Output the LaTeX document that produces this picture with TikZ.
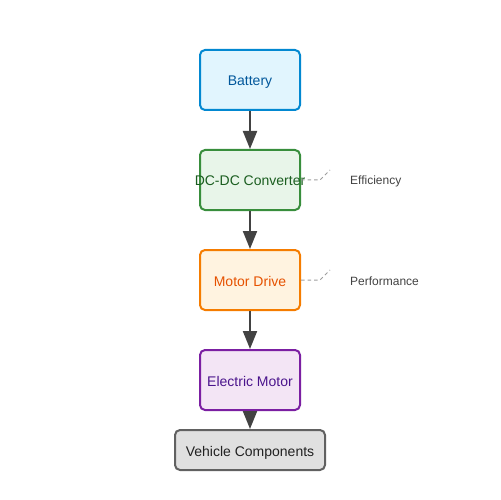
\documentclass[tikz,border=0pt]{standalone}
\usepackage{fontspec}
\setmainfont{Liberation Sans}
\usetikzlibrary{arrows.meta}
\definecolor{bfill}{HTML}{E1F5FE}\definecolor{bdraw}{HTML}{0288D1}\definecolor{btext}{HTML}{01579B}
\definecolor{dfill}{HTML}{E8F5E9}\definecolor{ddraw}{HTML}{388E3C}\definecolor{dtext}{HTML}{1B5E20}
\definecolor{mfill}{HTML}{FFF3E0}\definecolor{mdraw}{HTML}{F57C00}\definecolor{mtext}{HTML}{E65100}
\definecolor{efill}{HTML}{F3E5F5}\definecolor{edraw}{HTML}{7B1FA2}\definecolor{etext}{HTML}{4A148C}
\definecolor{vfill}{HTML}{E0E0E0}\definecolor{vdraw}{HTML}{616161}\definecolor{vtext}{HTML}{212121}
\definecolor{arr}{HTML}{424242}
\definecolor{lbl}{HTML}{424242}
\definecolor{dash}{HTML}{9E9E9E}
\tikzset{
  box/.style={rectangle, rounded corners=5bp, line width=2bp, minimum width=100bp, minimum height=60bp, inner xsep=-20bp, inner ysep=0pt, text height=12bp, text depth=0pt, font=\fontsize{14bp}{16bp}\selectfont},
  flow/.style={draw=arr, line width=2bp, -{Triangle[length=18bp,width=14bp]}},
  note/.style={draw=dash, line width=1bp, dashed, dash pattern=on 3.5bp off 3bp},
  notetext/.style={anchor=west, inner sep=0pt, text=lbl, font=\fontsize{12bp}{14bp}\selectfont}
}
\begin{document}
\begin{tikzpicture}[x=1bp,y=-1bp]
\useasboundingbox (0,0) rectangle (500,500);
\node[box, fill=bfill, draw=bdraw, text=btext] (bat) at (250,80) {Battery};
\node[box, fill=dfill, draw=ddraw, text=dtext] (dc) at (250,180) {DC-DC Converter};
\node[box, fill=mfill, draw=mdraw, text=mtext] (md) at (250,280) {Motor Drive};
\node[box, fill=efill, draw=edraw, text=etext] (em) at (250,380) {Electric Motor};
\node[box, fill=vfill, draw=vdraw, text=vtext, minimum width=150bp, minimum height=40bp] (vc) at (250,450) {Vehicle Components};
\draw[flow] (bat) -- (dc);
\draw[flow] (dc) -- (md);
\draw[flow] (md) -- (em);
\draw[flow] (em) -- (vc);
\node[notetext] (eff) at (350,181) {Efficiency};
\node[notetext] (perf) at (350,281) {Performance};
\coordinate (e1) at (320,180); \coordinate (e2) at (330,170);
\coordinate (p1) at (320,280); \coordinate (p2) at (330,270);
\draw[note] (dc.east) -- (e1) -- (e2);
\draw[note] (md.east) -- (p1) -- (p2);
\end{tikzpicture}
\end{document}
